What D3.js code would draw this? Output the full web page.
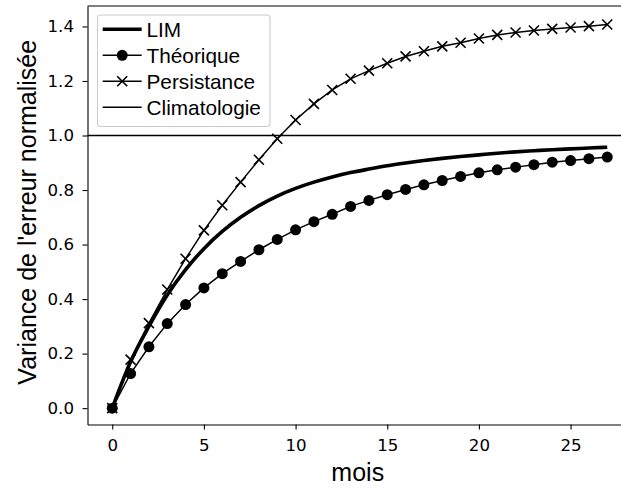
<!DOCTYPE html>
<html>
<head>
<meta charset="utf-8">
<script src="https://cdn.jsdelivr.net/npm/d3@7"></script>
<style>
  html, body { margin: 0; padding: 0; background: #fff; }
  svg { display: block; overflow: hidden; }
</style>
</head>
<body>
<div id="chart"></div>
<script>
// ---- data ----
const months = d3.range(0, 28); // 0..27
const limValues = [0, 0.170, 0.300, 0.415, 0.508, 0.585, 0.648, 0.700, 0.743, 0.778, 0.806,
  0.829, 0.848, 0.864, 0.877, 0.889, 0.899, 0.908, 0.916, 0.923, 0.929, 0.935, 0.940,
  0.944, 0.948, 0.951, 0.954, 0.957];
const theoriqueValues = [0, 0.127, 0.225, 0.310, 0.380, 0.441, 0.493, 0.538, 0.581, 0.619,
  0.654, 0.684, 0.711, 0.740, 0.762, 0.783, 0.802, 0.819, 0.835, 0.850, 0.863, 0.874,
  0.884, 0.893, 0.902, 0.908, 0.915, 0.921];
const persistanceValues = [0, 0.178, 0.312, 0.435, 0.548, 0.652, 0.744, 0.829, 0.911, 0.988,
  1.057, 1.116, 1.167, 1.208, 1.238, 1.265, 1.290, 1.309, 1.327, 1.340, 1.356, 1.369,
  1.378, 1.385, 1.391, 1.396, 1.401, 1.407];
const climatologieValue = 1.0;
const xTicks = [0, 5, 10, 15, 20, 25];
const yTicks = [0, 0.2, 0.4, 0.6, 0.8, 1.0, 1.2, 1.4];
const legendLabels = ["LIM", "Théorique", "Persistance", "Climatologie"];
const xLabel = "mois";
const yLabel = "Variance de l'erreur normalisée";

(function () {
// ---- layout ----
const W = 621, H = 493;
const pL = 87.5, pR = 632, pT = 6, pB = 424.5;
const tickFont = "'DejaVu Sans', sans-serif";
const textFont = "'Liberation Sans', Arial, sans-serif";

const svg = d3.select("#chart").append("svg")
  .attr("width", W).attr("height", H);

const x = d3.scaleLinear().domain([-1.35, 28.35]).range([pL, pR]);
const y = d3.scaleLinear().domain([-0.06, 1.475]).range([pB, pT]);

// ---- series ----
const g = svg.append("g");

// Climatologie
g.append("line")
  .attr("x1", pL).attr("x2", pR)
  .attr("y1", y(climatologieValue)).attr("y2", y(climatologieValue))
  .attr("stroke", "#000").attr("stroke-width", 1.5);

const line = d3.line().x((d, i) => x(months[i])).y(d => y(d));

// Persistance
g.append("path").datum(persistanceValues)
  .attr("d", line).attr("fill", "none")
  .attr("stroke", "#000").attr("stroke-width", 1.5);
const xm = 5;
persistanceValues.forEach((v, i) => {
  const cx = x(months[i]), cy = y(v);
  g.append("path")
    .attr("d", `M${cx - xm},${cy - xm}L${cx + xm},${cy + xm}M${cx - xm},${cy + xm}L${cx + xm},${cy - xm}`)
    .attr("stroke", "#000").attr("stroke-width", 1.6).attr("fill", "none");
});

// Théorique
g.append("path").datum(theoriqueValues)
  .attr("d", line).attr("fill", "none")
  .attr("stroke", "#000").attr("stroke-width", 1.5);
g.selectAll("circle.th").data(theoriqueValues).enter().append("circle")
  .attr("class", "th")
  .attr("cx", (d, i) => x(months[i])).attr("cy", d => y(d))
  .attr("r", 5.5).attr("fill", "#000");

// LIM
g.append("path").datum(limValues)
  .attr("d", d3.line().curve(d3.curveMonotoneX).x((d, i) => x(months[i])).y(d => y(d)))
  .attr("fill", "none")
  .attr("stroke", "#000").attr("stroke-width", 3.6)
  .attr("stroke-linejoin", "round");

// ---- axes ----
const xAxis = d3.axisBottom(x).tickValues(xTicks).tickFormat(d3.format("d"))
  .tickSize(5).tickSizeOuter(0).tickPadding(10);
const gx = svg.append("g").attr("transform", `translate(0,${pB})`).call(xAxis);
const yAxis = d3.axisLeft(y).tickValues(yTicks).tickFormat(d3.format(".1f"))
  .tickSize(5).tickSizeOuter(0).tickPadding(8.5);
const gy = svg.append("g").attr("transform", `translate(${pL},0)`).call(yAxis);
[gx, gy].forEach(a => {
  a.selectAll("text").attr("font-family", tickFont).attr("font-size", "16.67px").attr("fill", "#000");
  a.selectAll("line").attr("stroke", "#000").attr("stroke-width", 1.1);
  a.select(".domain").attr("stroke", "#000").attr("stroke-width", 1.1);
});
// top and right spines
svg.append("line").attr("x1", pL).attr("x2", pR).attr("y1", pT).attr("y2", pT)
  .attr("stroke", "#000").attr("stroke-width", 1.1);
svg.append("line").attr("x1", pR).attr("x2", pR).attr("y1", pT).attr("y2", pB)
  .attr("stroke", "#000").attr("stroke-width", 1.1);

// axis labels
svg.append("text").attr("x", (pL + pR) / 2 - 2).attr("y", 481)
  .attr("text-anchor", "middle").attr("font-family", textFont).attr("font-size", "25px")
  .attr("fill", "#000").text(xLabel);
svg.append("text")
  .attr("transform", `translate(36,${(pT + pB) / 2 - 3}) rotate(-90)`)
  .attr("text-anchor", "middle").attr("font-family", textFont).attr("font-size", "25px")
  .attr("fill", "#000").text(yLabel);

// ---- legend ----
const lg = svg.append("g");
lg.append("rect").attr("x", 97.5).attr("y", 15).attr("width", 172.5).attr("height", 111.5)
  .attr("rx", 3).attr("fill", "#fff").attr("fill-opacity", 0.8)
  .attr("stroke", "#cccccc").attr("stroke-width", 1.1);
const hx1 = 102.7, hx2 = 141.7, hxm = (hx1 + hx2) / 2, tx = 146.5;
legendLabels.forEach((lab, i) => {
  const cy = 29.3 + 26 * i;
  lg.append("line").attr("x1", hx1).attr("x2", hx2).attr("y1", cy).attr("y2", cy)
    .attr("stroke", "#000").attr("stroke-width", i === 0 ? 3.6 : 1.5);
  if (i === 1) lg.append("circle").attr("cx", hxm).attr("cy", cy).attr("r", 5.5).attr("fill", "#000");
  if (i === 2) lg.append("path")
    .attr("d", `M${hxm - xm},${cy - xm}L${hxm + xm},${cy + xm}M${hxm - xm},${cy + xm}L${hxm + xm},${cy - xm}`)
    .attr("stroke", "#000").attr("stroke-width", 1.6);
  lg.append("text").attr("x", tx).attr("y", cy + 7.5)
    .attr("font-family", textFont).attr("font-size", "20.8px").attr("fill", "#000").text(lab);
});
})();
</script>
</body>
</html>
